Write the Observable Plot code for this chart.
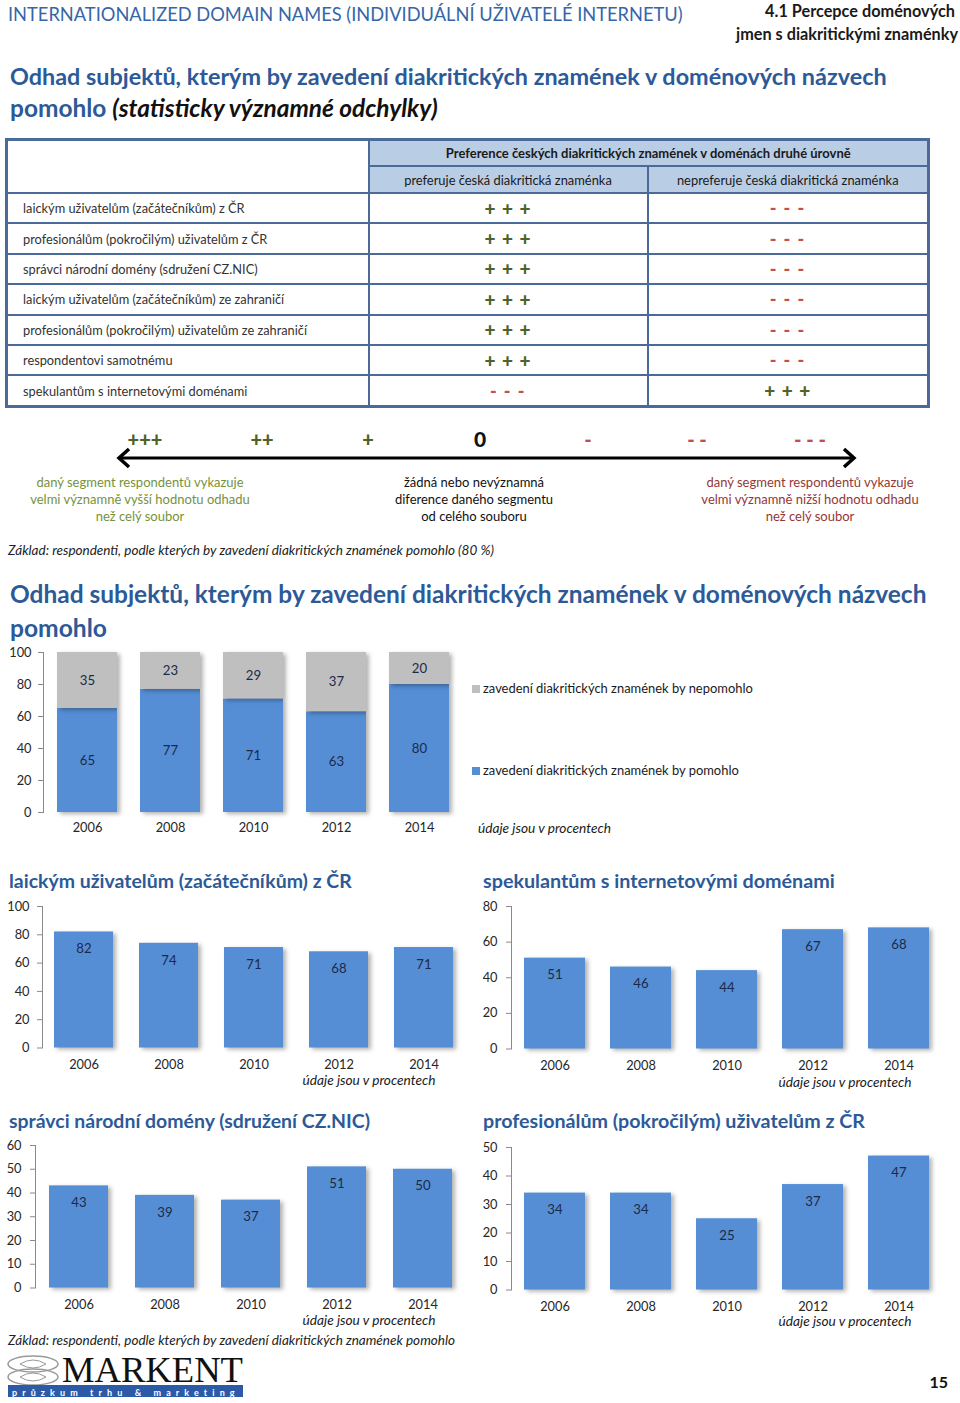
<!DOCTYPE html>
<html><head><meta charset="utf-8">
<script src="https://cdn.jsdelivr.net/npm/d3@7"></script>
<script src="https://cdn.jsdelivr.net/npm/@observablehq/plot@0.6"></script>
<style>
html,body{margin:0;padding:0;background:#fff;}
#page{position:relative;width:960px;height:1403px;overflow:hidden;font-family:Lato,"Open Sans",sans-serif;}
.t{position:absolute;white-space:nowrap;line-height:1.2;}
.plt{position:absolute;overflow:visible;}
.plt g[aria-label="y-axis tick label"], .plt g[aria-label="x-axis tick label"]{fill:#262626;}
.plt g[aria-label="bar"] rect{filter:drop-shadow(3px 2px 2px rgba(0,0,0,0.30));}
table.seg{position:absolute;left:5px;top:138px;width:922px;border-collapse:collapse;table-layout:fixed;border:3px solid #4a6b99;font-family:Lato,sans-serif;}
table.seg td, table.seg th{border:2px solid #4a6b99;padding:0;text-align:center;white-space:nowrap;}
table.seg th{background:#b9cde5;color:#1a1a1a;}
table.seg tr.h1 th{height:24px;font-weight:700;font-size:13px;}
table.seg tr.h2 th{height:25px;font-weight:400;font-size:12.9px;}
table.seg td{height:28.4px;}
table.seg td.lab{text-align:left;padding-left:15px;font-size:12.8px;color:#333;}
table.seg td.plus{color:#4f6228;font-weight:900;font-size:19px;letter-spacing:1px;}
table.seg td.minus{color:#c0504d;font-weight:900;font-size:18px;letter-spacing:1.5px;}
</style></head>
<body><div id="page"></div>
<script>
// ---------------- data ----------------
const years = ["2006", "2008", "2010", "2012", "2014"];
const seriesNames = ["zavedení diakritických znamének by pomohlo", "zavedení diakritických znamének by nepomohlo"];
const pomohlo = [65, 77, 71, 63, 80];
const nepomohlo = [35, 23, 29, 37, 20];
const laiciCR = [82, 74, 71, 68, 71];
const spekulanti = [51, 46, 44, 67, 68];
const spravci = [43, 39, 37, 51, 50];
const profesionalove = [34, 34, 25, 37, 47];
const segments = [
  "laickým uživatelům (začátečníkům) z ČR",
  "profesionálům (pokročilým) uživatelům z ČR",
  "správci národní domény (sdružení CZ.NIC)",
  "laickým uživatelům (začátečníkům) ze zahraničí",
  "profesionálům (pokročilým) uživatelům ze zahraničí",
  "respondentovi samotnému",
  "spekulantům s internetovými doménami"
];
const preferuje = ["+ + +", "+ + +", "+ + +", "+ + +", "+ + +", "+ + +", "- - -"];
const nepreferuje = ["- - -", "- - -", "- - -", "- - -", "- - -", "- - -", "+ + +"];
const scaleSymbols = ["+++", "++", "+", "0", "-", "- -", "- - -"];

// ---------------- style ----------------
const FONT = 'Lato, "Open Sans", sans-serif';
const BLUE = "#558ed5", GRAY = "#bfbfbf", LABEL = "#1c2a48";
const TITLE = "#2c5a98", HEAD = "#3566a8";
const GREEN = "#4f6228", GREEN_T = "#76923c", RED = "#c0504d", RED_T = "#953735";
const page = document.getElementById("page");

function text(str, x, y, o = {}) {
  const d = document.createElement("div");
  d.className = "t";
  d.innerHTML = str;
  const s = o.size || 14;
  Object.assign(d.style, {
    left: x + "px", top: y + "px", fontSize: s + "px", fontWeight: o.weight || 400,
    color: o.color || "#222", fontStyle: o.italic ? "italic" : "normal", fontFamily: o.family || FONT
  });
  if (o.lh) d.style.lineHeight = o.lh;
  const tx = o.anchor === "middle" ? "-50%" : o.anchor === "end" ? "-100%" : "0";
  d.style.transform = `translate(${tx},-50%)`;
  page.appendChild(d);
  if (o.fit) {
    const w = d.getBoundingClientRect().width;
    d.style.fontSize = (s * o.fit / w) + "px";
  }
  return d;
}

// ---------------- header ----------------
text("INTERNATIONALIZED DOMAIN NAMES (INDIVIDUÁLNÍ UŽIVATELÉ INTERNETU)", 8, 15, {size: 18, color: HEAD, fit: 675});
text("4.1 Percepce doménových", 955, 11, {size: 15, weight: 700, color: "#1a1a1a", anchor: "end", fit: 190});
text("jmen s diakritickými znaménky", 958, 34, {size: 15, weight: 700, color: "#1a1a1a", anchor: "end", fit: 222});
text("Odhad subjektů, kterým by zavedení diakritických znamének v doménových názvech", 10, 76, {size: 22, weight: 700, color: TITLE, fit: 877});
text('pomohlo <span style="color:#111;font-style:italic">(statisticky významné odchylky)</span>', 10, 108, {size: 22, weight: 700, color: TITLE, fit: 428});

// ---------------- table ----------------
const tbl = document.createElement("table");
tbl.className = "seg";
let html = '<colgroup><col style="width:362px"><col style="width:279px"><col style="width:281px"></colgroup>';
html += '<tr class="h1"><td rowspan="2" style="background:#fff"></td><th colspan="2">Preference českých diakritických znamének v doménách druhé úrovně</th></tr>';
html += '<tr class="h2"><th>preferuje česká diakritická znaménka</th><th>nepreferuje česká diakritická znaménka</th></tr>';
segments.forEach((s, i) => {
  const cls = v => v.includes("+") ? "plus" : "minus";
  html += `<tr><td class="lab">${s}</td><td class="${cls(preferuje[i])}">${preferuje[i]}</td><td class="${cls(nepreferuje[i])}">${nepreferuje[i]}</td></tr>`;
});
tbl.innerHTML = html;
page.appendChild(tbl);

// ---------------- significance scale ----------------
const symbolX = [145, 262, 368, 480, 588, 697, 810];
scaleSymbols.forEach((s, i) => {
  const col = s === "0" ? "#111" : s.includes("+") ? GREEN : RED;
  text(s, symbolX[i], 439, {size: s === "0" ? 21 : 20, weight: 900, color: col, anchor: "middle"});
});
const arrow = document.createElementNS("http://www.w3.org/2000/svg", "svg");
arrow.setAttribute("width", 960); arrow.setAttribute("height", 40);
Object.assign(arrow.style, {position: "absolute", left: "0px", top: "440px"});
arrow.innerHTML = '<line x1="120" y1="18" x2="853" y2="18" stroke="#000" stroke-width="3"/>' +
  '<polyline points="129,9 119,18 129,27" fill="none" stroke="#000" stroke-width="3.5" stroke-linejoin="miter"/>' +
  '<polyline points="844,9 854,18 844,27" fill="none" stroke="#000" stroke-width="3.5" stroke-linejoin="miter"/>';
page.appendChild(arrow);
const leftDesc = ["daný segment respondentů vykazuje", "velmi významně vyšší hodnotu odhadu", "než celý soubor"];
const midDesc = ["žádná nebo nevýznamná", "diference daného segmentu", "od celého souboru"];
const rightDesc = ["daný segment respondentů vykazuje", "velmi významně nižší hodnotu odhadu", "než celý soubor"];
[483, 500, 517].forEach((y, i) => {
  text(leftDesc[i], 140, y, {size: 13, color: GREEN_T, anchor: "middle"});
  text(midDesc[i], 474, y, {size: 13, color: "#111", anchor: "middle"});
  text(rightDesc[i], 810, y, {size: 13, color: RED_T, anchor: "middle"});
});
text("Základ: respondenti, podle kterých by zavedení diakritických znamének pomohlo (80 %)", 8, 550, {size: 12, italic: true, color: "#222", fit: 486});

// ---------------- section title ----------------
text("Odhad subjektů, kterým by zavedení diakritických znamének v doménových názvech", 10, 594, {size: 23, weight: 700, color: TITLE, fit: 917});
text("pomohlo", 10, 628, {size: 23, weight: 700, color: TITLE, fit: 97});

// ---------------- charts ----------------
function bandX(ax, first, step, bw) {
  const n = years.length;
  const pi = 1 - bw / step;
  const po = (first - bw / 2 - ax) / step;
  const r1 = ax + step * (n - pi + 2 * po);
  return {type: "band", domain: years, range: [ax, r1], paddingInner: pi, paddingOuter: po, align: 0.5};
}

function chart(c, marks) {
  const mt = 10, mb = 36;
  const top = c.maxY - mt;
  const height = mt + (c.zeroY - c.maxY) + mb;
  const ax = c.axisX - c.left;
  const svg = Plot.plot({
    width: c.width, height, marginTop: mt, marginBottom: mb, marginLeft: ax, marginRight: 0,
    style: {fontFamily: FONT, fontSize: "12.8px", color: "#8a8a8a", background: "transparent", overflow: "visible"},
    x: {...bandX(ax, c.first - c.left, c.step, c.bw), label: null, tickSize: 0, tickPadding: c.xPad || 12},
    y: {domain: [0, c.yMax], ticks: d3.range(0, c.yMax + 1, c.yStep), tickSize: 5, tickPadding: c.tickPad, line: true, label: null},
    color: {domain: seriesNames, range: [BLUE, GRAY]},
    marks
  });
  svg.classList.add("plt");
  svg.style.left = c.left + "px";
  svg.style.top = top + "px";
  svg.style.position = "absolute";
  page.appendChild(svg);
}

// stacked chart
const stacked = [
  ...years.map((year, i) => ({year, series: seriesNames[0], value: pomohlo[i]})),
  ...years.map((year, i) => ({year, series: seriesNames[1], value: nepomohlo[i]}))
];
chart({left: 0, width: 470, axisX: 43, maxY: 652, zeroY: 812, first: 86, step: 83.25, bw: 60, yMax: 100, yStep: 20, tickPad: 7, xPad: 10}, [
  Plot.barY(stacked, {x: "year", y: "value", fill: "series"}),
  Plot.text(stacked, Plot.stackY({x: "year", y: "value", z: "series", text: d => String(d.value), fill: LABEL, fontSize: 13.2}))
]);
// legend
[[seriesNames[1], GRAY, 689], [seriesNames[0], BLUE, 771]].forEach(([name, col, y]) => {
  const sq = document.createElement("div");
  Object.assign(sq.style, {position: "absolute", left: "472px", top: (y - 4) + "px", width: "8px", height: "8px", background: col});
  page.appendChild(sq);
  text(name, 483, y, {size: 12.5, color: "#1a1a1a", fit: name.includes("nepomohlo") ? 270 : 256});
});
text("údaje jsou v procentech", 478, 828, {size: 13, italic: true, color: "#1a1a1a", fit: 133});

function simple(values, c) {
  const data = years.map((year, i) => ({year, value: values[i]}));
  chart(c, [
    Plot.barY(data, {x: "year", y: "value", fill: BLUE}),
    Plot.text(data, {x: "year", y: "value", text: d => String(d.value), dy: 17, fill: LABEL, fontSize: 13.2})
  ]);
}

text("laickým uživatelům (začátečníkům) z ČR", 9, 881, {size: 18, weight: 700, color: TITLE, fit: 343});
simple(laiciCR, {left: 0, width: 470, axisX: 42, maxY: 905.5, zeroY: 1047, first: 83.5, step: 85, bw: 59, yMax: 100, yStep: 20, tickPad: 8});
text("údaje jsou v procentech", 369, 1080, {size: 13, italic: true, color: "#1a1a1a", anchor: "middle", fit: 133});

text("spekulantům s internetovými doménami", 483, 881, {size: 18, weight: 700, color: TITLE, fit: 352});
simple(spekulanti, {left: 480, width: 480, axisX: 511, maxY: 906, zeroY: 1048.5, first: 553.5, step: 86.4, bw: 61, yMax: 80, yStep: 20, tickPad: 9});
text("údaje jsou v procentech", 845, 1082, {size: 13, italic: true, color: "#1a1a1a", anchor: "middle", fit: 133});

text("správci národní domény (sdružení CZ.NIC)", 9, 1121, {size: 18, weight: 700, color: TITLE, fit: 361});
simple(spravci, {left: 0, width: 470, axisX: 35, maxY: 1145, zeroY: 1287.5, first: 77.5, step: 86.4, bw: 59, yMax: 60, yStep: 10, tickPad: 9});
text("údaje jsou v procentech", 369, 1320, {size: 13, italic: true, color: "#1a1a1a", anchor: "middle", fit: 133});

text("profesionálům (pokročilým) uživatelům z ČR", 483, 1121, {size: 18, weight: 700, color: TITLE, fit: 382});
simple(profesionalove, {left: 480, width: 480, axisX: 511, maxY: 1146.5, zeroY: 1289, first: 553.5, step: 86.4, bw: 61, yMax: 50, yStep: 10, tickPad: 9});
text("údaje jsou v procentech", 845, 1321, {size: 13, italic: true, color: "#1a1a1a", anchor: "middle", fit: 133});

text("Základ: respondenti, podle kterých by zavedení diakritických znamének pomohlo", 8, 1340, {size: 12, italic: true, color: "#222", fit: 447});

// ---------------- logo & page number ----------------
const logo = document.createElementNS("http://www.w3.org/2000/svg", "svg");
logo.setAttribute("width", 250); logo.setAttribute("height", 50);
Object.assign(logo.style, {position: "absolute", left: "0px", top: "1352px"});
logo.innerHTML =
  '<ellipse cx="33" cy="12" rx="25" ry="8" fill="none" stroke="#999" stroke-width="1.5"/>' +
  '<ellipse cx="33" cy="25" rx="25" ry="8" fill="none" stroke="#999" stroke-width="1.5"/>' +
  '<path d="M20 12 Q33 4 46 12 Q33 20 20 12" fill="none" stroke="#999" stroke-width="1"/>' +
  '<path d="M20 25 Q33 17 46 25 Q33 33 20 25" fill="none" stroke="#999" stroke-width="1"/>' +
  '<rect x="8" y="33" width="235" height="12" fill="#2d5aa6"/>';
page.appendChild(logo);
text("MARKENT", 62, 1370, {size: 36, family: '"Liberation Serif", "DejaVu Serif", serif', color: "#111", fit: 181, lh: "0.62"});
const tag = text("průzkum trhu &amp; marketing", 12, 1391.5, {size: 9, weight: 700, color: "#fff", lh: "1"});
tag.style.letterSpacing = "5.1px";
text("15", 948, 1382, {size: 16, weight: 700, color: "#111", anchor: "end"});
</script>
</body></html>
